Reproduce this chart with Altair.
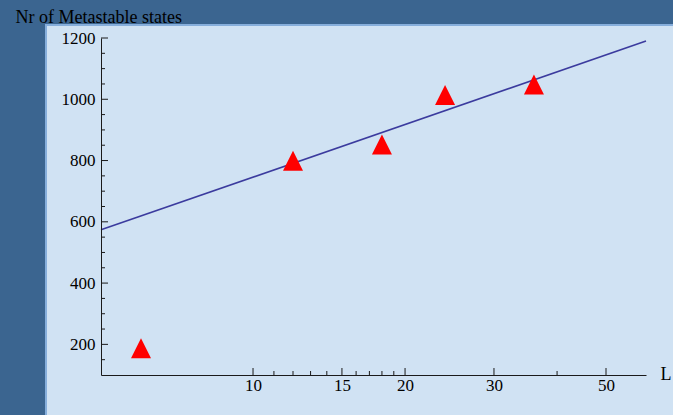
import altair as alt
import pandas as pd

# Measured number of metastable states versus system size L
L_values = [6, 12, 18, 24, 36]
n_states = [187, 799, 852, 1014, 1048]

# Straight-line fit in log L, sampled at the ends of the x range
fit_L = [5, 60]
fit_n = [574, 1190]

# Axis tick positions
x_major = [10, 15, 20, 30, 50]
x_minor = [11, 12, 13, 14, 16, 17, 18, 19, 40]
y_major = [200, 400, 600, 800, 1000, 1200]
y_minor = [150, 250, 300, 350, 450, 500, 550, 650, 700, 750, 850, 900, 950, 1050, 1100, 1150]

W, H = 545, 337
FONT = "Liberation Serif"

points = pd.DataFrame({"L": L_values, "N": n_states})
fit = pd.DataFrame({"L": fit_L, "N": fit_n})

x_scale = alt.Scale(type="log", domain=[5, 60], nice=False)
y_scale = alt.Scale(domain=[100, 1200], nice=False, zero=False)

x_axis = alt.Axis(
    values=x_major, ticks=False, grid=False, labelFont=FONT, labelFontSize=17,
    labelColor="black", labelPadding=2, domainColor="#1a1a1a", domainWidth=1,
    title="L", titleFont=FONT, titleFontSize=18, titleFontWeight="normal",
    titleColor="black", titleX=W + 14, titleY=-1, titleAlign="left",
    titleBaseline="middle", labelFlush=False, format="d", zindex=2,
)
y_axis = alt.Axis(
    values=y_major, ticks=False, grid=False, labelFont=FONT, labelFontSize=17,
    labelColor="black", labelPadding=6, domainColor="#1a1a1a", domainWidth=1,
    title="Nr of Metastable states", titleFont=FONT, titleFontSize=18,
    titleFontWeight="normal", titleColor="black", titleAngle=0,
    titleX=-86, titleY=-16, titleAlign="left", titleBaseline="alphabetic",
    labelFlush=False, format="d", zindex=2,
)

# Light panel behind the plot
panel = alt.Chart(pd.DataFrame({"a": [0]})).mark_rect(
    fill="#d0e2f3", stroke="#86aedb", strokeWidth=2
).encode(
    x=alt.value(-55), x2=alt.value(W + 40),
    y=alt.value(-13), y2=alt.value(H + 60),
)

line = alt.Chart(fit).mark_line(color="#3b3b9e", strokeWidth=1.6).encode(
    x=alt.X("L:Q", scale=x_scale, axis=x_axis),
    y=alt.Y("N:Q", scale=y_scale, axis=y_axis),
)

marks = alt.Chart(points).mark_point(
    shape="M0,-1L1,1L-1,1Z", filled=True, size=400, color="#ff0000", opacity=1
).encode(
    x=alt.X("L:Q", scale=x_scale),
    y=alt.Y("N:Q", scale=y_scale),
)

# Inward-pointing ticks
xt_major = alt.Chart(pd.DataFrame({"L": x_major})).mark_rule(color="#1a1a1a", strokeWidth=1).encode(
    x=alt.X("L:Q", scale=x_scale), y=alt.value(H), y2=alt.value(H - 7)
)
xt_minor = alt.Chart(pd.DataFrame({"L": x_minor})).mark_rule(color="#1a1a1a", strokeWidth=1).encode(
    x=alt.X("L:Q", scale=x_scale), y=alt.value(H), y2=alt.value(H - 4)
)
yt_major = alt.Chart(pd.DataFrame({"N": y_major})).mark_rule(color="#1a1a1a", strokeWidth=1).encode(
    y=alt.Y("N:Q", scale=y_scale), x=alt.value(0), x2=alt.value(7)
)
yt_minor = alt.Chart(pd.DataFrame({"N": y_minor})).mark_rule(color="#1a1a1a", strokeWidth=1).encode(
    y=alt.Y("N:Q", scale=y_scale), x=alt.value(0), x2=alt.value(4)
)

chart = alt.layer(
    panel, line, xt_major, xt_minor, yt_major, yt_minor, marks
).properties(
    width=W, height=H,
    autosize=alt.AutoSizeParams(type="none"),
    padding={"left": 101, "top": 38, "right": 27, "bottom": 40},
    background="#3b6590",
).configure_view(stroke=None)

chart.save("out.html", embed_options={"renderer": "svg", "actions": False})
